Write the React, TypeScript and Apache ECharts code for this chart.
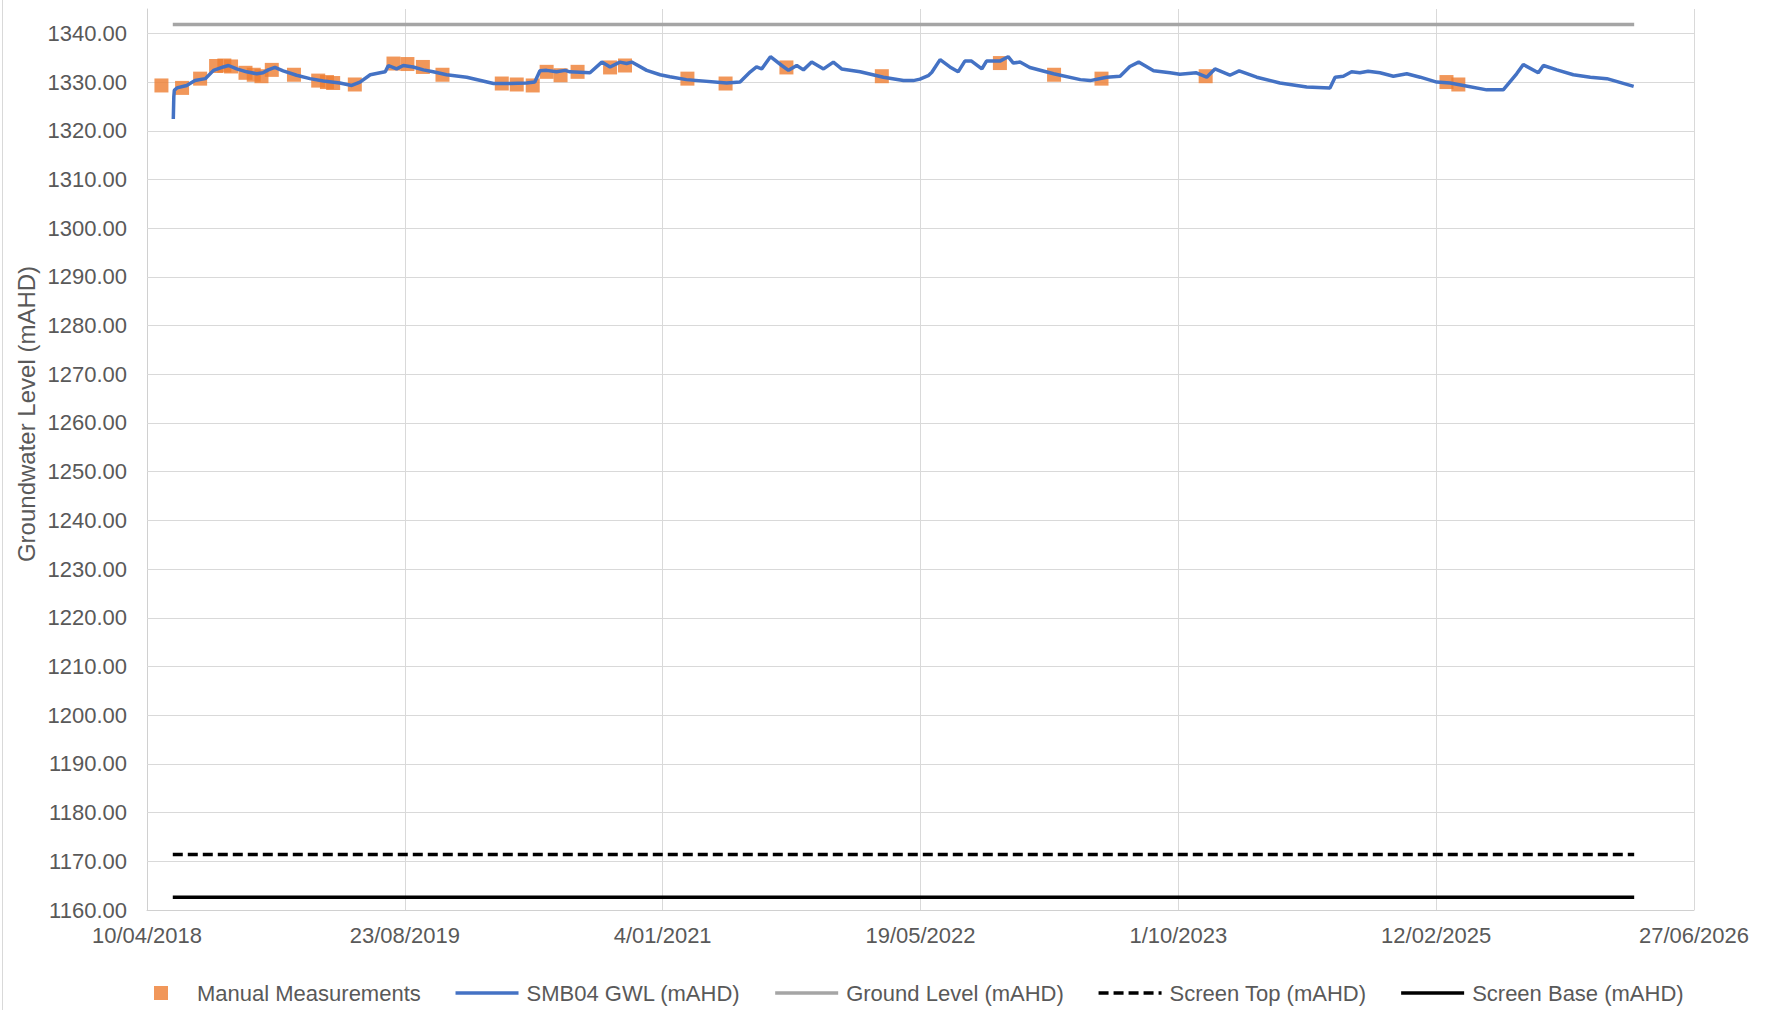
import React, { useEffect, useRef } from "react";
import * as echarts from "echarts";

// Days are counted from the first axis date, 10/04/2018
const axisStartUTC = Date.UTC(2018, 3, 10);
const xTickInterval = 500;
const xMaxDay = 3000;

const yMin = 1160;
const yMax = 1345;
const yTickInterval = 10;
const yGridValues = [1170, 1180, 1190, 1200, 1210, 1220, 1230, 1240, 1250, 1260, 1270, 1280, 1290, 1300, 1310, 1320, 1330, 1340];

const seriesNames = [
  "Manual Measurements",
  "SMB04 GWL (mAHD)",
  "Ground Level (mAHD)",
  "Screen Top (mAHD)",
  "Screen Base (mAHD)",
];

// Manual measurements
const manualDay = [28, 68, 103, 134, 150, 163, 191, 207, 222, 242, 285, 332, 349, 361, 403, 478, 505, 535, 573, 688, 717, 748, 775, 802, 835, 898, 927, 1048, 1122, 1240, 1425, 1654, 1759, 1851, 2053, 2520, 2543];
const manualLevel = [1329.3, 1328.8, 1330.7, 1333.3, 1333.4, 1333.2, 1331.9, 1331.5, 1331.2, 1332.5, 1331.5, 1330.3, 1330.0, 1329.8, 1329.5, 1333.8, 1333.7, 1333.1, 1331.5, 1329.7, 1329.5, 1329.3, 1332.1, 1331.4, 1332.1, 1333.0, 1333.4, 1330.7, 1329.7, 1333.0, 1331.2, 1333.9, 1331.5, 1330.7, 1331.2, 1330.0, 1329.5];

// Logger groundwater level
const gwlDay = [51, 52, 53, 58, 77, 93, 113, 129, 148, 158, 174, 193, 213, 225, 235, 248, 264, 290, 316, 342, 374, 397, 413, 433, 452, 462, 468, 484, 497, 516, 536, 555, 581, 620, 672, 704, 736, 752, 762, 775, 794, 811, 820, 859, 882, 898, 917, 930, 940, 969, 995, 1014, 1046, 1124, 1150, 1170, 1182, 1192, 1209, 1231, 1244, 1260, 1273, 1289, 1312, 1331, 1347, 1383, 1428, 1467, 1486, 1499, 1515, 1522, 1538, 1557, 1573, 1586, 1599, 1619, 1628, 1654, 1670, 1680, 1693, 1712, 1758, 1810, 1829, 1861, 1887, 1906, 1923, 1952, 1984, 2003, 2035, 2055, 2071, 2100, 2118, 2152, 2197, 2249, 2294, 2304, 2320, 2336, 2352, 2368, 2391, 2417, 2443, 2469, 2501, 2527, 2553, 2598, 2630, 2656, 2669, 2698, 2708, 2734, 2766, 2799, 2831, 2883];
const gwlLevel = [1322.4, 1327.0, 1328.3, 1328.8, 1329.3, 1330.3, 1330.7, 1332.4, 1333.1, 1333.4, 1332.7, 1332.1, 1331.7, 1331.9, 1332.5, 1333.0, 1332.3, 1331.4, 1330.7, 1330.2, 1329.8, 1329.3, 1330.0, 1331.5, 1331.9, 1332.1, 1333.4, 1332.7, 1333.4, 1333.1, 1332.5, 1332.1, 1331.5, 1331.0, 1329.7, 1329.7, 1329.8, 1330.0, 1332.3, 1332.4, 1332.1, 1332.4, 1332.1, 1331.9, 1334.1, 1333.1, 1334.1, 1333.8, 1334.1, 1332.4, 1331.5, 1331.1, 1330.5, 1329.8, 1330.0, 1332.1, 1333.1, 1332.7, 1335.2, 1333.4, 1332.4, 1333.4, 1332.5, 1334.1, 1332.7, 1334.1, 1332.7, 1332.1, 1331.0, 1330.3, 1330.3, 1330.6, 1331.3, 1332.0, 1334.6, 1333.1, 1332.1, 1334.3, 1334.3, 1332.7, 1334.3, 1334.3, 1335.2, 1333.9, 1334.1, 1333.0, 1331.7, 1330.5, 1330.3, 1331.0, 1331.2, 1333.2, 1334.1, 1332.3, 1331.9, 1331.6, 1331.9, 1331.0, 1332.7, 1331.4, 1332.3, 1331.0, 1329.8, 1329.0, 1328.8, 1331.0, 1331.2, 1332.1, 1331.9, 1332.2, 1331.9, 1331.2, 1331.7, 1331.0, 1330.0, 1329.8, 1329.3, 1328.4, 1328.4, 1331.7, 1333.6, 1331.9, 1333.4, 1332.5, 1331.5, 1331.0, 1330.7, 1329.1];

// Constant reference levels, spanning the logger record
const refStartDay = 50;
const refEndDay = 2884;
const groundLevel = 1341.8;
const screenTop = 1171.4;
const screenBase = 1162.6;

const FONT = '"Liberation Sans", Arial, sans-serif';
const TEXT = "#595959";

function dayToLabel(v: number): string {
  const d = new Date(axisStartUTC + v * 86400000);
  const mm = String(d.getUTCMonth() + 1).padStart(2, "0");
  return `${d.getUTCDate()}/${mm}/${d.getUTCFullYear()}`;
}

export default function App() {
  const ref = useRef<HTMLDivElement>(null);

  useEffect(() => {
    if (!ref.current) return;
    const chart = echarts.init(ref.current, null, { renderer: "svg" });

    const manualData = manualDay.map((d, i) => [d, manualLevel[i]]);
    const gwlData = gwlDay.map((d, i) => [d, gwlLevel[i]]);
    const flat = (v: number) => [
      [refStartDay, v],
      [refEndDay, v],
    ];

    const squareIcon = "path://M0,0L0,0M63,14L63,14M28,0L42,0L42,14L28,14Z";
    const hiddenSymbol = { opacity: 0 };

    chart.setOption({
      animation: false,
      textStyle: { fontFamily: FONT },
      grid: { left: 147, right: 73, top: 9, bottom: 100, containLabel: false },
      graphic: [
        {
          type: "line",
          shape: { x1: 2.5, y1: 0, x2: 2.5, y2: 1010 },
          style: { stroke: "#D9D9D9", lineWidth: 1 },
          silent: true,
        },
        {
          type: "text",
          x: 26,
          y: 414,
          rotation: Math.PI / 2,
          style: {
            text: "Groundwater Level (mAHD)",
            fontSize: 24,
            fontFamily: FONT,
            fill: TEXT,
            align: "center",
            verticalAlign: "middle",
          },
          silent: true,
        },
      ],
      legend: {
        left: 121,
        top: 977,
        itemWidth: 63,
        itemHeight: 14,
        itemGap: 33,
        selectedMode: false,
        lineStyle: { width: 3.5 },
        textStyle: { fontSize: 22, color: TEXT, fontFamily: FONT, padding: [0, 0, 0, 3] },
        data: [
          { name: seriesNames[0], icon: squareIcon },
          { name: seriesNames[1], itemStyle: hiddenSymbol },
          { name: seriesNames[2], itemStyle: hiddenSymbol },
          { name: seriesNames[3], itemStyle: hiddenSymbol },
          { name: seriesNames[4], itemStyle: hiddenSymbol },
        ],
      },
      xAxis: {
        type: "value",
        min: 0,
        max: xMaxDay,
        interval: xTickInterval,
        axisLine: { show: true, lineStyle: { color: "#D0D0D0", width: 1 } },
        axisTick: { show: false },
        splitLine: { show: true, lineStyle: { color: "#D9D9D9", width: 1 } },
        axisLabel: {
          formatter: (v: number) => dayToLabel(v),
          fontSize: 22,
          color: TEXT,
          margin: 14,
          showMinLabel: true,
          showMaxLabel: true,
          fontFamily: FONT,
        },
      },
      yAxis: {
        type: "value",
        min: yMin,
        max: yMax,
        interval: yTickInterval,
        axisLine: { show: true, lineStyle: { color: "#D0D0D0", width: 1 } },
        axisTick: { show: false },
        splitLine: { show: false },
        axisLabel: {
          formatter: (v: number) => (v % 10 === 0 ? v.toFixed(2) : ""),
          fontSize: 22,
          color: TEXT,
          margin: 20,
          fontFamily: FONT,
        },
      },
      series: [
        {
          name: seriesNames[0],
          type: "scatter",
          symbol: "rect",
          symbolSize: 14,
          itemStyle: { color: "#ED7D31" },
          data: manualData,
          z: 3,
        },
        {
          name: seriesNames[1],
          type: "line",
          symbol: "none",
          lineStyle: { color: "#4472C4", width: 3.5 },
          itemStyle: { color: "#4472C4" },
          data: gwlData,
          z: 4,
        },
        {
          name: seriesNames[2],
          type: "line",
          symbol: "none",
          lineStyle: { color: "#A5A5A5", width: 3.5 },
          itemStyle: { color: "#A5A5A5" },
          data: flat(groundLevel),
          z: 2,
          markLine: {
            silent: true,
            symbol: "none",
            z: 1,
            label: { show: false },
            lineStyle: { color: "#D9D9D9", width: 1, type: "solid" },
            emphasis: { disabled: true },
            data: yGridValues.map((v) => ({ yAxis: v })),
          },
        },
        {
          name: seriesNames[3],
          type: "line",
          symbol: "none",
          lineStyle: { color: "#000000", width: 3.5, type: [10, 5] },
          itemStyle: { color: "#000000" },
          data: flat(screenTop),
          z: 2,
        },
        {
          name: seriesNames[4],
          type: "line",
          symbol: "none",
          lineStyle: { color: "#000000", width: 3.5 },
          itemStyle: { color: "#000000" },
          data: flat(screenBase),
          z: 2,
        },
      ],
    });

    return () => chart.dispose();
  }, []);

  return (
    <div
      ref={ref}
      style={{ position: "absolute", left: 0, top: 0, width: 1767, height: 1010, background: "#ffffff" }}
    />
  );
}
